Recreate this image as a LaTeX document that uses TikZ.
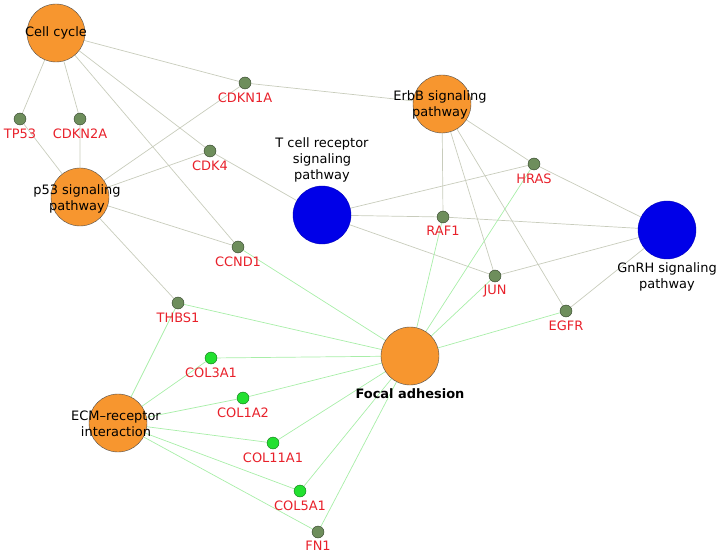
\documentclass[tikz,border=0pt]{standalone}
\usepackage{fontspec}
\setsansfont{DejaVu Sans}
\usetikzlibrary{positioning,backgrounds}
\definecolor{pathorange}{HTML}{F7962F}
\definecolor{pathblue}{HTML}{0000E8}
\definecolor{genegray}{HTML}{6E8E5C}
\definecolor{genegreen}{HTML}{22E030}
\definecolor{genered}{HTML}{E8202A}
\definecolor{edgegray}{HTML}{C8CCBC}
\definecolor{edgegreen}{HTML}{A8EEA8}
\begin{document}
\begin{tikzpicture}[x=1bp,y=-1bp,
	font=\sffamily\fontsize{13}{16.5}\selectfont,
	path/.style={circle,draw=black!70,fill=pathorange,minimum size=58bp,inner sep=0pt},
	tcr/.style={circle,draw=pathblue!80!black,fill=pathblue,minimum size=58bp,inner sep=0pt},
	gene/.style={circle,draw=black!55!genegray,fill=genegray,minimum size=12bp,inner sep=0pt},
	ecmgene/.style={circle,draw=black!50!genegreen,fill=genegreen,minimum size=12bp,inner sep=0pt},
	gname/.style={text=genered,inner sep=1pt},
	pname/.style={align=center,inner sep=0pt},
	gl/.style={edgegray,line width=0.7pt},
	fl/.style={edgegreen,line width=0.7pt}]
	\useasboundingbox (0,0) rectangle (720,554);
	% pathways
	\node[path] (cc) at (56,33) {};
	\node[path] (p53) at (80,197) {};
	\node[path] (erbb) at (442,104) {};
	\node[tcr] (tcell) at (322,215) {};
	\node[tcr] (gnrh) at (667,230) {};
	\node[path] (focal) at (410,356) {};
	\node[path] (ecm) at (118,423) {};
	\node[pname] (cc-l) at (cc) {Cell cycle};
	\node[pname] (p53-l) at (77,199) {p53 signaling\\pathway};
	\node[pname] (erbb-l) at (440,105) {ErbB signaling\\pathway};
	\node[pname,above=3bp of tcell] (tcell-l) {T cell receptor\\signaling\\pathway};
	\node[pname,below=3bp of gnrh] (gnrh-l) {GnRH signaling\\pathway};
	\node[pname,below=3bp of focal,font=\sffamily\bfseries\fontsize{13}{16.5}\selectfont] (focal-l) {Focal adhesion};
	\node[pname] (ecm-l) at (116,424) {ECM--receptor\\interaction};
	% genes
	\node[gene] (tp53) at (20,119) {};
	\node[gene] (cdkn2a) at (80,119) {};
	\node[gene] (cdkn1a) at (245,83) {};
	\node[gene] (cdk4) at (210,151) {};
	\node[gene] (ccnd1) at (238,247) {};
	\node[gene] (hras) at (534,164) {};
	\node[gene] (raf1) at (443,217) {};
	\node[gene] (jun) at (495,276) {};
	\node[gene] (egfr) at (566,311) {};
	\node[gene] (thbs1) at (178,303) {};
	\node[ecmgene] (col3a1) at (211,358) {};
	\node[ecmgene] (col1a2) at (243,398) {};
	\node[ecmgene] (col11a1) at (273,443) {};
	\node[ecmgene] (col5a1) at (300,491) {};
	\node[gene] (fn1) at (318,532) {};
	\foreach \g/\t in {tp53/TP53,cdkn2a/CDKN2A,cdkn1a/CDKN1A,cdk4/CDK4,ccnd1/CCND1,
		hras/HRAS,raf1/RAF1,jun/JUN,egfr/EGFR,thbs1/THBS1,col3a1/COL3A1,
		col1a2/COL1A2,col11a1/COL11A1,col5a1/COL5A1,fn1/FN1}
		\node[gname,below=2bp of \g] (\g-l) {\t};
	% edges
	\begin{pgfonlayer}{background}
		\foreach \g in {tp53,cdkn2a,cdkn1a,cdk4,ccnd1}
			\draw[gl] (cc) -- (\g) (\g) -- (p53);
		\draw[gl] (p53) -- (thbs1);
		\draw[gl] (cdkn1a) -- (erbb);
		\draw[gl] (cdk4) -- (tcell);
		\foreach \g in {hras,raf1,jun,egfr}
			\draw[gl] (erbb) -- (\g) (\g) -- (gnrh);
		\foreach \g in {hras,raf1,jun}
			\draw[gl] (tcell) -- (\g);
		\foreach \g in {ccnd1,thbs1,col3a1,col1a2,col11a1,col5a1,fn1,raf1,hras,jun,egfr}
			\draw[fl] (focal) -- (\g);
		\foreach \g in {thbs1,col3a1,col1a2,col11a1,col5a1,fn1}
			\draw[fl] (ecm) -- (\g);
	\end{pgfonlayer}
\end{tikzpicture}
\end{document}
